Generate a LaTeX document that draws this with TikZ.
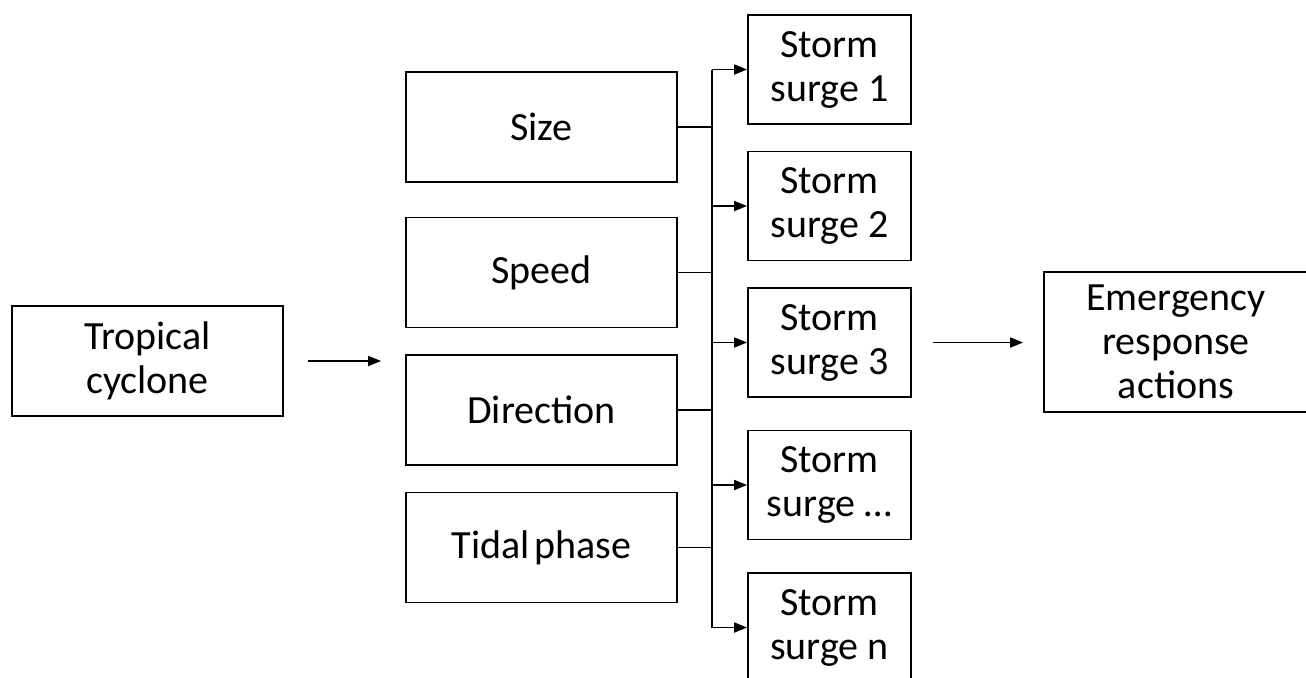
\documentclass[tikz,border=0pt]{standalone}
\usepackage{fontspec}
\setmainfont{Carlito}
\usetikzlibrary{arrows.meta}

\begin{document}
\begin{tikzpicture}[x=0.5pt,y=-0.5pt,>={Triangle[length=6.5pt,width=5pt]},line width=0.9pt,every node/.style={draw,align=center,inner sep=0pt,font=\fontsize{20}{22}\selectfont},param/.style={minimum width=135.5pt,minimum height=55pt},surge/.style={minimum width=81.5pt,minimum height=54.5pt}]
\useasboundingbox (0,0) rectangle (1306,677);
\clip (0,0) rectangle (1306,677);
\node[param]   (tc)      at (147.5,361)   {Tropical\\cyclone};
\node[param]   (p1)      at (541.5,127)   {Size};
\node[param]   (p2)      at (541.5,272.5) {Speed};
\node[param]   (p3)      at (541.5,410)   {Direction};
\node[param]   (p4)      at (541.5,547.5) {Tidal\hspace{0.12em}phase};
\node[surge]   (s1)      at (829.5,69.5)  {Storm\\surge 1};
\node[surge]   (s2)      at (829.5,206)   {Storm\\surge 2};
\node[surge]   (s3)      at (829.5,342.5) {Storm\\surge 3};
\node[surge]   (s4)      at (829.5,485)   {Storm\\surge …};
\node[surge]   (s5)      at (829.5,627.5) {Storm\\surge n};
\node[minimum width=132pt,minimum height=70pt] (er) at (1176,342) {Emergency\\response\\actions};
\coordinate (bt) at (712,69.5);
\coordinate (bb) at (712,627.5);

\draw[->,shorten <=12pt,shorten >=12pt] (tc.east) -- (tc.east -| p3.west);
\draw (bt) -- (bb);
\draw (p1.east) -- (p1.east -| bt);
\draw (p2.east) -- (p2.east -| bt);
\draw (p3.east) -- (p3.east -| bt);
\draw (p4.east) -- (p4.east -| bt);
\draw[->] (s1.west -| bt) -- (s1.west);
\draw[->] (s2.west -| bt) -- (s2.west);
\draw[->] (s3.west -| bt) -- (s3.west);
\draw[->] (s4.west -| bt) -- (s4.west);
\draw[->] (s5.west -| bt) -- (s5.west);
\draw[->,shorten <=10.5pt,shorten >=10pt] (s3.east) -- (s3.east -| er.west);
\end{tikzpicture}
\end{document}
